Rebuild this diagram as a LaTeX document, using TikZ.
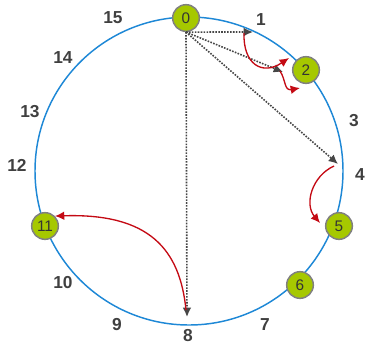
\documentclass[tikz,border=0pt]{standalone}
\usepackage{fontspec}
\setmainfont{Liberation Sans}
\usepackage{xcolor}
\usetikzlibrary{arrows.meta}

\definecolor{ringblue}{RGB}{30,136,214}
\definecolor{peergreen}{RGB}{166,200,0}
\definecolor{hopred}{RGB}{196,10,20}
\definecolor{fingergray}{RGB}{70,70,70}
\definecolor{labelgray}{RGB}{64,64,64}

\begin{document}
\begin{tikzpicture}[x=0.75pt,y=-0.75pt,>={Latex[length=7pt,width=6.5pt]},
  peer/.style={circle,draw=gray,line width=1.1pt,fill=peergreen,minimum size=20pt,
    inner sep=0pt,font=\fontsize{11.5}{12}\selectfont,text=black!80},
  slot/.style={font=\bfseries\fontsize{13}{13}\selectfont,text=labelgray},
  finger/.style={->,densely dotted,line width=1.2pt,draw=fingergray},
  hop/.style={->,line width=1pt,draw=hopred}]
  \useasboundingbox (0,0) rectangle (367,344);
  % identifier ring
  \draw[ringblue,line width=1.1pt] (189,171) circle (154);
  % free positions
  \node[slot] (s1) at (261,20) {1};
  \node[slot] (s3) at (354,121) {3};
  \node[slot] (s4) at (360,175) {4};
  \node[slot] (s7) at (265,325) {7};
  \node[slot] (s8) at (188,336) {8};
  \node[slot] (s9) at (117,325) {9};
  \node[slot] (s10) at (63,283) {10};
  \node[slot] (s12) at (17,165) {12};
  \node[slot] (s13) at (30,112) {13};
  \node[slot] (s14) at (63,58) {14};
  \node[slot] (s15) at (113,18) {15};
  % peers
  \node[peer] (n0) at (186,18) {0};
  \node[peer] (n2) at (306,70) {2};
  \node[peer] (n5) at (339,226) {5};
  \node[peer] (n6) at (300,285) {6};
  \node[peer] (n11) at (45,226) {11};
  % finger targets
  \coordinate (f1) at (253,32);
  \coordinate (f2) at (283,72);
  \coordinate (f4) at (338,164);
  \coordinate (f8) at (187,317);
  \coordinate (h1) at (244,33);
  \coordinate (h2) at (280,71);
  \coordinate (h4) at (334,166);
  \coordinate (h8) at (186,310);
  \coordinate (e1) at (289,58);
  \coordinate (e2) at (300,88);
  \coordinate (e4) at (320,223);
  \draw[finger] (n0.south) -- (f1);
  \draw[finger] (n0.south) -- (f2);
  \draw[finger] (n0.south) -- (f4);
  \draw[finger] (n0.south) -- (f8);
  % lookups
  \draw[hop] (h1) .. controls (243,64) and (262,76) .. (e1);
  \draw[hop] (h2) .. controls (286,80) and (284,91) .. (e2);
  \draw[hop] (h4) .. controls (312,176) and (304,204) .. (e4);
  \draw[hop] (h8) .. controls (180,250) and (150,213) .. (n11.north east);
\end{tikzpicture}
\end{document}
